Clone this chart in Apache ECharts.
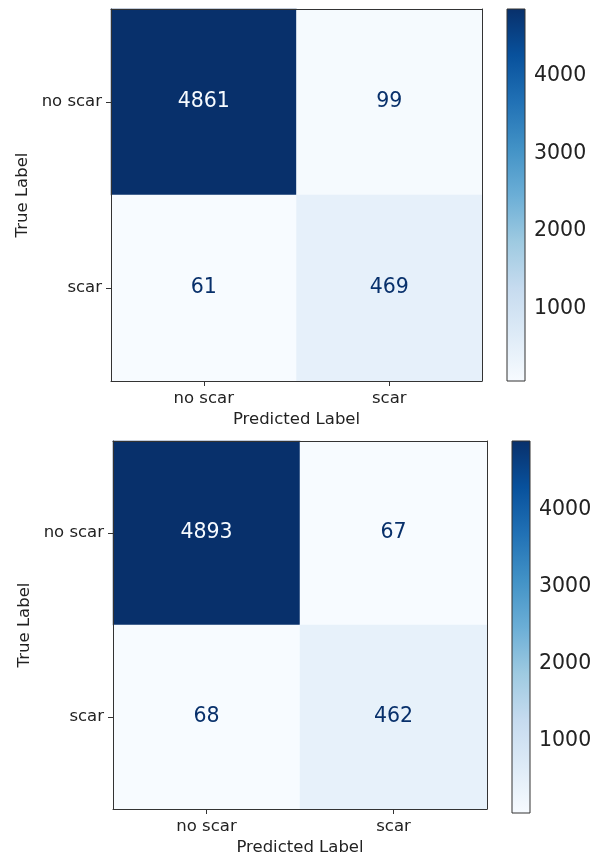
<!DOCTYPE html>
<html>
<head>
<meta charset="utf-8">
<style>
  html, body { margin: 0; padding: 0; background: #ffffff; }
  #chart { width: 603px; height: 857px; }
</style>
<script src="https://cdn.jsdelivr.net/npm/echarts@6/dist/echarts.min.js"></script>
</head>
<body>
<div id="chart"></div>
<script>
// Class names shared by both confusion matrices
const predictedLabels = ['no scar', 'scar'];
const trueLabels = ['no scar', 'scar'];

// Counts, row = true label, column = predicted label
const matrixA = [
  [4861, 99],
  [61, 469]
];
const matrixB = [
  [4893, 67],
  [68, 462]
];

// Colour bar tick values
const colorbarTicks = [1000, 2000, 3000, 4000];

// "Blues" colour ramp, light to dark
const blues = ['#f7fbff', '#deebf7', '#c6dbef', '#9ecae1', '#6baed6',
               '#4292c6', '#2171b5', '#08519c', '#08306b'];

const FONT = 'DejaVu Sans';
const INK = '#222222';
const FRAME = '#333333';

const chart = echarts.init(document.getElementById('chart'), null, { renderer: 'canvas' });

function flat(m) { return m.reduce((a, r) => a.concat(r), []); }

function heatData(m) {
  const vals = flat(m);
  const lo = Math.min(...vals), hi = Math.max(...vals);
  const mid = (lo + hi) / 2;
  const out = [];
  m.forEach((row, yi) => {
    row.forEach((v, xi) => {
      out.push({
        value: [xi, yi, v],
        label: { color: v > mid ? blues[0] : blues[blues.length - 1] }
      });
    });
  });
  return out;
}

const grids = [
  { left: 111, top: 9, width: 371, height: 372 },   // matrix A
  { left: 507, top: 9, width: 18, height: 372 },    // colour bar A
  { left: 113, top: 441, width: 374, height: 372 }, // matrix B
  { left: 512, top: 441, width: 18, height: 372 }   // colour bar B
];

const xAxes = [], yAxes = [], series = [], visualMaps = [];

function addMatrix(m, gi) {
  const vals = flat(m);
  const lo = Math.min(...vals), hi = Math.max(...vals);

  // bottom category axis with labels and name
  xAxes.push({
    gridIndex: gi, type: 'category', data: predictedLabels, position: 'bottom', z: 10,
    axisLine: { show: true, lineStyle: { color: FRAME, width: 1 } },
    axisTick: { show: true, alignWithLabel: true, length: 5, lineStyle: { color: FRAME } },
    axisLabel: { color: INK, fontFamily: FONT, fontSize: 16.5, margin: 9 },
    splitLine: { show: false }, splitArea: { show: false },
    name: 'Predicted Label', nameLocation: 'middle', nameGap: 30,
    nameTextStyle: { color: INK, fontFamily: FONT, fontSize: 16.5 }
  });
  const xMain = xAxes.length - 1;
  // top edge of the frame
  xAxes.push({
    gridIndex: gi, type: 'category', data: predictedLabels, position: 'top', z: 10,
    axisLine: { show: true, lineStyle: { color: FRAME, width: 1 } },
    axisTick: { show: false }, axisLabel: { show: false }, splitLine: { show: false }
  });
  yAxes.push({
    gridIndex: gi, type: 'category', data: trueLabels, inverse: true, position: 'left', z: 10,
    axisLine: { show: true, lineStyle: { color: FRAME, width: 1 } },
    axisTick: { show: true, alignWithLabel: true, length: 5, lineStyle: { color: FRAME } },
    axisLabel: { color: INK, fontFamily: FONT, fontSize: 16.5, margin: 9 },
    splitLine: { show: false }, splitArea: { show: false },
    name: 'True Label', nameLocation: 'middle', nameGap: 76, nameRotate: 90,
    nameTextStyle: { color: INK, fontFamily: FONT, fontSize: 16.5 }
  });
  const yMain = yAxes.length - 1;
  // right edge of the frame
  yAxes.push({
    gridIndex: gi, type: 'category', data: trueLabels, inverse: true, position: 'right', z: 10,
    axisLine: { show: true, lineStyle: { color: FRAME, width: 1 } },
    axisTick: { show: false }, axisLabel: { show: false }, splitLine: { show: false }
  });

  series.push({
    type: 'heatmap', xAxisIndex: xMain, yAxisIndex: yMain,
    data: heatData(m),
    label: { show: true, fontFamily: FONT, fontSize: 20.5 },
    itemStyle: { borderWidth: 0 },
    emphasis: { disabled: true }
  });
  visualMaps.push({
    type: 'continuous', show: false, seriesIndex: series.length - 1,
    dimension: 2, min: lo, max: hi, inRange: { color: blues }
  });

  // colour bar
  const cg = gi + 1;
  xAxes.push({ gridIndex: cg, type: 'value', min: 0, max: 1, show: false });
  const cx = xAxes.length - 1;
  yAxes.push({
    gridIndex: cg, type: 'value', min: lo, max: hi, position: 'right',
    axisLine: { show: false },
    splitLine: { show: false },
    axisTick: { show: true, length: 5, customValues: colorbarTicks, lineStyle: { color: FRAME } },
    axisLabel: {
      show: true, customValues: colorbarTicks, color: INK, fontFamily: FONT, fontSize: 20.5, margin: 9,
      formatter: v => String(v)
    }
  });
  const cy = yAxes.length - 1;
  const stops = blues.map((c, i) => ({ offset: 1 - i / (blues.length - 1), color: c }));
  series.push({
    type: 'custom', xAxisIndex: cx, yAxisIndex: cy,
    data: [[0, lo, hi]],
    silent: true,
    renderItem: function (params, api) {
      const p0 = api.coord([0, api.value(2)]);
      const p1 = api.coord([1, api.value(1)]);
      return {
        type: 'rect',
        shape: { x: p0[0], y: p0[1], width: p1[0] - p0[0], height: p1[1] - p0[1] },
        style: {
          fill: new echarts.graphic.LinearGradient(0, 0, 0, 1, stops),
          stroke: FRAME, lineWidth: 1
        }
      };
    }
  });
}

addMatrix(matrixA, 0);
addMatrix(matrixB, 2);

chart.setOption({
  backgroundColor: '#ffffff',
  animation: false,
  grid: grids.map(g => Object.assign({ containLabel: false, show: false }, g)),
  xAxis: xAxes,
  yAxis: yAxes,
  visualMap: visualMaps,
  series: series
});
</script>
</body>
</html>
